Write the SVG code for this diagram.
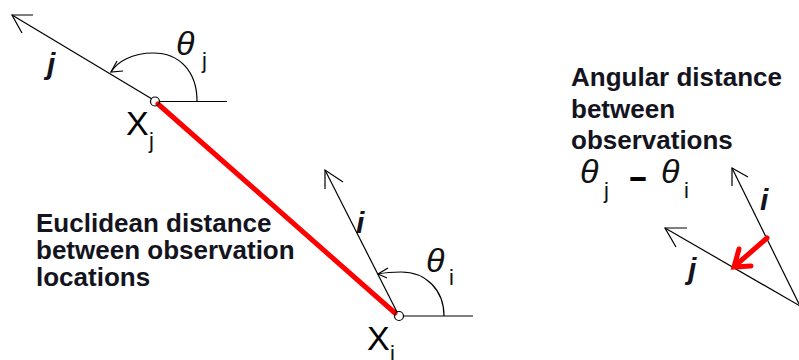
<svg xmlns="http://www.w3.org/2000/svg" width="799" height="360" viewBox="0 0 799 360">
  <style>
    .ln { stroke: #000; stroke-width: 1.2; fill: none; }
    .red { stroke: #f00; stroke-width: 5; fill: none; stroke-linecap: round; }
    .lbl { font-family: "Liberation Sans", Arial, sans-serif; font-weight: bold; font-size: 26px; fill: #14141e; }
    .vec { font-family: "Liberation Sans", Arial, sans-serif; font-weight: bold; font-style: italic; font-size: 30px; fill: #14141e; }
    .th { font-family: "Liberation Sans", Arial, sans-serif; font-style: italic; font-size: 34px; fill: #111; }
    .sub { font-family: "Liberation Sans", Arial, sans-serif; font-size: 22px; fill: #111; }
    .pt { font-family: "Liberation Sans", Arial, sans-serif; font-size: 34px; fill: #000; }
  </style>
  <rect width="799" height="360" fill="#fff"/>

  <g id="connectors">
    <!-- red euclidean distance line -->
    <line class="red" x1="158" y1="104" x2="395" y2="313"/>
    <!-- vector j at x_j -->
    <line class="ln" x1="152" y1="99" x2="12" y2="15"/>
    <polyline class="ln" points="33,15 12,15 22,33"/>
    <!-- vector i at x_i -->
    <line class="ln" x1="397" y1="312" x2="325" y2="170"/>
    <polyline class="ln" points="343,182 325,170 325,189"/>
    <!-- right: angular diagram -->
    <line class="ln" x1="800" y1="306" x2="732" y2="168"/>
    <polyline class="ln" points="748,177 732,168 732,186"/>
    <line class="ln" x1="800" y1="306" x2="665" y2="228"/>
    <polyline class="ln" points="687,228 665,228 676,247"/>
    <line class="red" x1="767" y1="238" x2="736" y2="265"/>
    <polyline class="red" stroke-linecap="butt" points="739,249 734,267 751,266" stroke-width="4"/>
  </g>

  <g id="xj">
    <circle cx="155" cy="101.5" r="4.5" fill="none" stroke="#000" stroke-width="1.2"/>
    <line class="ln" x1="159.5" y1="101.5" x2="227" y2="101.5"/>
    <path class="ln" d="M197,101 C197,72 180,53 153,53 C132,53 117,62 111,72"/>
    <polyline class="ln" points="117,61 111,72 123,71"/>
    <text class="th" x="176" y="55">θ</text>
    <text class="sub" x="202" y="68">j</text>
    <text class="vec" x="47" y="74">j</text>
    <text class="pt" x="126" y="135">X</text>
    <text class="sub" x="149" y="148">j</text>
  </g>

  <g id="xi">
    <circle cx="399" cy="316" r="4.5" fill="none" stroke="#000" stroke-width="1.2"/>
    <line class="ln" x1="403.5" y1="316" x2="473" y2="316"/>
    <path class="ln" d="M444,316 C444,290 426,272 401,272 C391,272 383,273 378,274"/>
    <polyline class="ln" points="388,268 378,274 387,278"/>
    <text class="th" x="426" y="272">θ</text>
    <text class="sub" x="449" y="285">i</text>
    <text class="vec" x="356" y="233">i</text>
    <text class="pt" x="367" y="350">X</text>
    <text class="sub" x="390" y="361">i</text>
  </g>

  <g id="euclidean-label">
    <text class="lbl" x="36" y="232">Euclidean distance</text>
    <text class="lbl" x="36" y="259">between observation</text>
    <text class="lbl" x="36" y="286">locations</text>
  </g>

  <g id="angular-label">
    <text class="lbl" x="571" y="86">Angular distance</text>
    <text class="lbl" x="571" y="117.5">between</text>
    <text class="lbl" x="571" y="149">observations</text>
    <text class="th" x="580" y="183">θ</text>
    <text class="sub" x="604" y="198">j</text>
    <text class="pt" x="628" y="188" font-size="50" font-weight="bold" textLength="20" lengthAdjust="spacingAndGlyphs">-</text>
    <text class="th" x="661" y="183">θ</text>
    <text class="sub" x="684" y="198">i</text>
  </g>

  <g id="angular-diagram">
    <text class="vec" x="760" y="210">i</text>
    <text class="vec" x="688" y="279">j</text>
  </g>
</svg>
